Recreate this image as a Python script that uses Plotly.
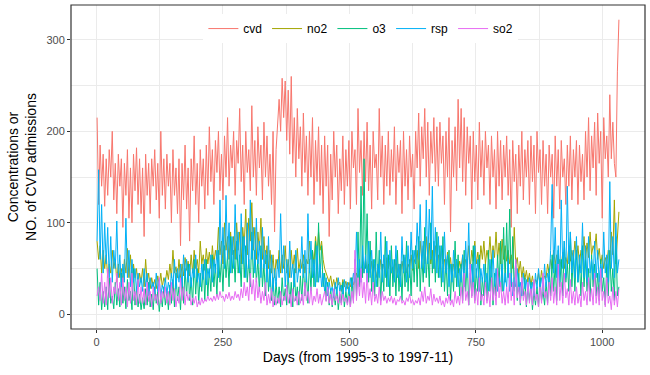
import plotly.graph_objects as go

# Day index (every third day of the 1033-day record)
days = list(range(1, 1034, 3))

cvd = [
    215, 120, 185, 140, 175, 118, 170, 130, 180, 150, 200, 125, 165, 110, 175,
    140, 170, 95, 165, 130, 180, 105, 160, 100, 175, 135, 182, 120, 170, 110,
    160, 85, 175, 130, 165, 110, 170, 140, 180, 125, 165, 105, 200, 130, 170,
    115, 175, 140, 165, 100, 180, 130, 160, 110, 170, 75, 165, 125, 185, 115,
    160, 80, 170, 135, 195, 120, 165, 100, 180, 140, 170, 115, 185, 130, 205,
    145, 180, 120, 190, 155, 200, 135, 175, 125, 195, 150, 215, 140, 185, 160,
    200, 130, 190, 165, 225, 145, 185, 120, 200, 155, 180, 135, 228, 150, 190,
    130, 205, 160, 185, 125, 210, 150, 195, 140, 175, 120, 200, 90, 180, 205,
    235, 200, 258, 215, 255, 190, 245, 175, 260, 165, 215, 150, 225, 170, 205,
    140, 220, 155, 195, 130, 200, 150, 215, 120, 190, 145, 205, 130, 185, 110,
    195, 140, 185, 85, 175, 125, 200, 150, 185, 110, 170, 135, 195, 120, 180,
    140, 190, 115, 200, 160, 180, 120, 225, 155, 190, 130, 200, 145, 210, 135,
    185, 115, 200, 160, 175, 125, 225, 150, 195, 120, 185, 140, 200, 130, 180,
    145, 205, 120, 185, 155, 190, 110, 200, 140, 180, 125, 195, 150, 175, 115,
    200, 160, 220, 140, 205, 170, 225, 150, 210, 130, 200, 165, 215, 145, 205,
    140, 210, 165, 195, 120, 200, 150, 215, 90, 190, 150, 205, 135, 235, 160,
    225, 145, 215, 130, 205, 165, 195, 115, 200, 145, 185, 125, 210, 150, 190,
    130, 200, 160, 185, 120, 195, 150, 180, 115, 200, 140, 190, 125, 185, 150,
    195, 130, 180, 95, 190, 145, 175, 110, 185, 140, 200, 125, 180, 150, 190,
    120, 195, 145, 185, 110, 200, 155, 180, 120, 190, 140, 175, 110, 185, 150,
    175, 105, 195, 140, 180, 115, 190, 150, 170, 120, 185, 140, 195, 125, 180,
    150, 190, 120, 185, 145, 175, 125, 200, 150, 215, 135, 195, 160, 210, 130,
    220, 165, 200, 105, 215, 170, 195, 150, 240, 170, 210, 165, 150, 265, 322,
]

no2 = [
    80, 60, 75, 45, 70, 50, 65, 40, 55, 45, 70, 50, 60, 35, 55,
    40, 50, 35, 60, 45, 72, 40, 65, 35, 55, 40, 50, 30, 45, 35,
    50, 30, 60, 35, 45, 28, 40, 30, 38, 28, 42, 32, 45, 30, 40,
    35, 48, 38, 55, 40, 70, 45, 52, 40, 60, 38, 55, 42, 62, 48,
    58, 42, 65, 45, 70, 50, 60, 45, 80, 55, 65, 48, 72, 55, 68,
    50, 75, 55, 70, 60, 95, 65, 80, 55, 100, 70, 85, 60, 90, 65,
    85, 60, 100, 70, 90, 55, 95, 75, 115, 65, 105, 80, 122, 70, 95,
    60, 90, 70, 105, 60, 85, 55, 75, 50, 70, 45, 65, 40, 60, 50,
    70, 45, 65, 50, 75, 45, 60, 40, 70, 50, 65, 45, 72, 48, 60,
    50, 65, 45, 60, 55, 80, 60, 70, 55, 85, 65, 90, 70, 80, 60,
    50, 45, 40, 35, 42, 30, 38, 28, 40, 32, 35, 25, 38, 30, 36,
    28, 35, 30, 40, 32, 38, 45, 40, 50, 38, 55, 45, 60, 48, 55,
    45, 58, 42, 55, 40, 50, 45, 60, 48, 55, 42, 62, 50, 58, 45,
    52, 40, 60, 45, 55, 42, 58, 48, 62, 45, 55, 50, 65, 48, 60,
    55, 70, 50, 80, 60, 75, 55, 85, 60, 78, 55, 70, 50, 75, 58,
    65, 50, 72, 55, 60, 45, 68, 50, 62, 42, 55, 48, 60, 45, 58,
    50, 65, 48, 60, 55, 75, 50, 70, 58, 80, 55, 68, 50, 75, 60,
    80, 55, 70, 60, 85, 58, 75, 62, 90, 60, 78, 55, 82, 60, 75,
    58, 70, 55, 65, 50, 95, 55, 62, 45, 58, 40, 52, 38, 48, 35,
    45, 32, 42, 30, 38, 35, 45, 32, 48, 36, 42, 40, 55, 45, 60,
    50, 70, 55, 65, 48, 60, 52, 68, 50, 62, 55, 75, 58, 70, 60,
    80, 60, 75, 55, 70, 65, 85, 60, 78, 62, 90, 65, 75, 70, 88,
    60, 72, 55, 65, 50, 62, 55, 70, 60, 90, 65, 125, 55, 85, 112,
]

o3 = [
    50, 10, 35, 5, 25, 8, 30, 5, 40, 12, 20, 6, 35, 10, 28,
    8, 45, 12, 30, 6, 38, 15, 25, 5, 50, 10, 30, 8, 22, 5,
    18, 6, 28, 10, 35, 8, 22, 5, 30, 12, 25, 3, 20, 8, 30,
    10, 25, 5, 32, 12, 38, 8, 45, 15, 30, 5, 40, 12, 50, 20,
    55, 15, 40, 10, 60, 22, 50, 12, 45, 25, 55, 15, 60, 20, 50,
    25, 65, 30, 55, 20, 70, 35, 60, 25, 75, 40, 65, 30, 85, 45,
    70, 35, 80, 45, 65, 30, 85, 40, 75, 35, 60, 30, 90, 40, 70,
    35, 60, 25, 75, 30, 55, 20, 65, 25, 50, 15, 40, 10, 35, 12,
    30, 8, 40, 15, 28, 10, 45, 12, 35, 8, 50, 15, 30, 10, 42,
    15, 55, 20, 45, 12, 60, 25, 70, 30, 80, 35, 100, 40, 75, 30,
    45, 15, 35, 10, 28, 8, 25, 10, 30, 5, 22, 12, 35, 8, 25,
    12, 30, 8, 40, 15, 60, 20, 90, 30, 140, 40, 170, 50, 110, 35,
    80, 25, 60, 20, 90, 30, 70, 15, 55, 25, 85, 30, 65, 20, 75,
    30, 60, 20, 70, 25, 55, 15, 65, 30, 80, 25, 60, 20, 70, 35,
    75, 30, 85, 25, 65, 35, 95, 40, 70, 30, 100, 45, 80, 35, 90,
    40, 75, 30, 85, 25, 60, 20, 70, 15, 55, 25, 80, 30, 65, 20,
    55, 15, 70, 25, 60, 10, 45, 20, 75, 15, 50, 25, 65, 10, 40,
    20, 55, 15, 70, 25, 60, 10, 45, 20, 65, 30, 80, 25, 95, 35,
    100, 40, 115, 30, 85, 25, 60, 15, 45, 10, 35, 20, 40, 8, 30,
    15, 35, 5, 25, 10, 30, 8, 40, 15, 25, 10, 35, 12, 50, 20,
    65, 25, 55, 15, 70, 30, 60, 20, 80, 35, 55, 25, 90, 30, 65,
    25, 70, 35, 55, 20, 75, 30, 60, 25, 50, 15, 65, 30, 55, 20,
    45, 15, 60, 25, 40, 10, 55, 20, 70, 25, 50, 15, 85, 20, 30,
]

rsp = [
    80, 158, 60, 120, 45, 100, 55, 95, 40, 85, 35, 70, 50, 102, 40,
    65, 30, 55, 35, 105, 40, 70, 30, 60, 35, 50, 25, 45, 30, 40,
    25, 50, 30, 45, 20, 40, 28, 35, 22, 45, 25, 38, 20, 32, 25,
    40, 22, 35, 25, 45, 30, 60, 28, 50, 35, 55, 30, 65, 40, 60,
    35, 55, 30, 50, 40, 65, 35, 45, 30, 55, 38, 60, 32, 50, 40,
    65, 35, 60, 45, 70, 40, 125, 55, 95, 50, 130, 60, 100, 45, 85,
    50, 120, 60, 90, 45, 110, 55, 85, 40, 100, 50, 125, 60, 95, 45,
    105, 55, 80, 40, 95, 50, 70, 35, 85, 30, 65, 25, 50, 30, 60,
    40, 110, 45, 75, 30, 60, 35, 80, 40, 55, 30, 70, 35, 50, 45,
    85, 40, 70, 35, 110, 45, 80, 40, 60, 30, 75, 35, 55, 30, 45,
    25, 40, 20, 35, 25, 30, 18, 35, 22, 40, 25, 32, 20, 38, 25,
    35, 22, 40, 30, 45, 35, 90, 40, 60, 35, 75, 45, 65, 35, 80,
    40, 70, 35, 60, 30, 55, 40, 90, 35, 65, 40, 80, 30, 70, 45,
    60, 35, 75, 40, 55, 30, 85, 45, 65, 35, 75, 40, 90, 50, 70,
    55, 100, 60, 120, 50, 80, 45, 125, 55, 115, 60, 140, 50, 95, 45,
    85, 40, 75, 35, 90, 45, 65, 30, 55, 35, 70, 40, 60, 30, 50,
    35, 65, 30, 80, 40, 100, 35, 55, 30, 75, 40, 60, 25, 50, 35,
    55, 30, 45, 25, 60, 35, 70, 30, 50, 25, 40, 30, 55, 25, 45,
    30, 60, 25, 45, 20, 40, 30, 50, 25, 35, 20, 45, 28, 38, 22,
    40, 25, 35, 20, 45, 28, 50, 30, 40, 25, 55, 30, 45, 35, 70,
    142, 45, 95, 40, 75, 35, 125, 50, 80, 40, 140, 55, 90, 45, 70,
    40, 85, 35, 65, 45, 100, 40, 75, 35, 85, 45, 60, 38, 80, 40,
    70, 35, 55, 40, 90, 45, 65, 35, 145, 50, 85, 40, 100, 45, 60,
]

so2 = [
    20, 30, 15, 45, 12, 35, 10, 50, 18, 40, 12, 30, 22, 45, 15,
    35, 10, 40, 15, 30, 8, 35, 12, 45, 15, 25, 10, 38, 12, 30,
    12, 28, 10, 35, 14, 25, 8, 30, 15, 22, 10, 40, 12, 25, 18,
    30, 12, 25, 10, 35, 15, 28, 8, 20, 12, 40, 15, 30, 10, 25,
    15, 22, 10, 18, 12, 20, 8, 15, 10, 18, 12, 16, 14, 20, 15,
    18, 14, 20, 15, 22, 16, 25, 18, 20, 14, 22, 17, 24, 15, 20,
    16, 25, 18, 22, 15, 28, 18, 35, 20, 30, 15, 45, 22, 38, 15,
    40, 18, 30, 12, 25, 15, 35, 10, 22, 12, 28, 8, 20, 10, 18,
    12, 25, 10, 20, 15, 32, 12, 22, 8, 28, 14, 20, 10, 25, 12,
    22, 10, 35, 15, 25, 12, 30, 10, 20, 14, 28, 12, 22, 10, 18,
    25, 14, 30, 12, 22, 10, 28, 15, 20, 12, 25, 10, 22, 14, 18,
    10, 20, 8, 25, 12, 70, 15, 40, 20, 50, 18, 35, 12, 45, 15,
    28, 10, 35, 14, 22, 12, 30, 10, 25, 15, 20, 12, 18, 14, 20,
    12, 18, 10, 16, 14, 20, 12, 15, 10, 18, 14, 22, 12, 16, 10,
    15, 12, 18, 10, 25, 14, 30, 12, 20, 15, 28, 10, 22, 14, 18,
    12, 20, 10, 15, 8, 18, 12, 22, 10, 16, 8, 25, 12, 20, 10,
    30, 12, 45, 15, 25, 10, 55, 18, 35, 12, 28, 10, 40, 15, 22,
    10, 35, 12, 25, 8, 40, 15, 30, 10, 50, 18, 35, 12, 25, 10,
    30, 12, 45, 15, 35, 10, 60, 18, 30, 12, 40, 15, 25, 10, 35,
    12, 28, 10, 38, 15, 22, 8, 30, 12, 45, 18, 25, 10, 35, 15,
    40, 12, 30, 10, 55, 15, 35, 12, 45, 18, 28, 10, 38, 12, 25,
    10, 30, 12, 22, 8, 35, 15, 25, 10, 40, 14, 28, 10, 45, 12,
    30, 10, 50, 15, 25, 8, 40, 12, 20, 5, 30, 10, 25, 8, 28,
]

series_names = ["cvd", "no2", "o3", "rsp", "so2"]
series_values = [cvd, no2, o3, rsp, so2]
series_colors = ["#F8766D", "#A3A500", "#00BF7D", "#00B0F6", "#E76BF3"]

x_ticks = [0, 250, 500, 750, 1000]
y_ticks = [0, 100, 200, 300]

fig = go.Figure()
for name, vals, col in zip(series_names, series_values, series_colors):
    fig.add_trace(go.Scatter(x=days, y=vals, mode="lines", name=name,
                             line=dict(color=col, width=1)))

font_family = "Liberation Sans, Arial, sans-serif"
axis_common = dict(
    automargin=False,
    showgrid=True, gridcolor="#EBEBEB", gridwidth=1,
    zeroline=False, showline=False,
    ticks="outside", ticklen=3, tickcolor="#333333", tickwidth=1,
    tickfont=dict(family=font_family, size=11, color="#4D4D4D"),
)

fig.update_layout(
    width=650, height=375,
    margin=dict(l=71, r=5, t=5, b=46),
    paper_bgcolor="white", plot_bgcolor="white",
    font=dict(family=font_family, color="black"),
    legend=dict(orientation="h", x=0.505, xanchor="center", y=0.972, yanchor="top",
                bgcolor="white", font=dict(size=12, color="black"),
                itemwidth=30, tracegroupgap=0),
    xaxis=dict(range=[-50.6, 1084.6], tickvals=x_ticks,
               title=dict(text="Days (from 1995-3 to 1997-11)",
                          font=dict(size=14, color="black"), standoff=4),
               minor=dict(tickvals=[125, 375, 625, 875], showgrid=True,
                          gridcolor="#EBEBEB", gridwidth=0.5, ticks=""),
               **axis_common),
    yaxis=dict(range=[-16.1, 338.1], tickvals=y_ticks,
               title=dict(text="Concentrations or<br>NO. of CVD admissions",
                          font=dict(size=14, color="black"), standoff=6),
               minor=dict(tickvals=[50, 150, 250], showgrid=True,
                          gridcolor="#EBEBEB", gridwidth=0.5, ticks=""),
               **axis_common),
)

# Panel border (theme_bw style)
fig.add_shape(type="rect", xref="paper", yref="paper", x0=0, y0=0, x1=1, y1=1,
              line=dict(color="#333333", width=1.2), fillcolor="rgba(0,0,0,0)",
              layer="above")

fig.write_html("out.html",
               config={"displayModeBar": False},
               post_script="document.body.style.margin='0';document.body.style.padding='0';")
